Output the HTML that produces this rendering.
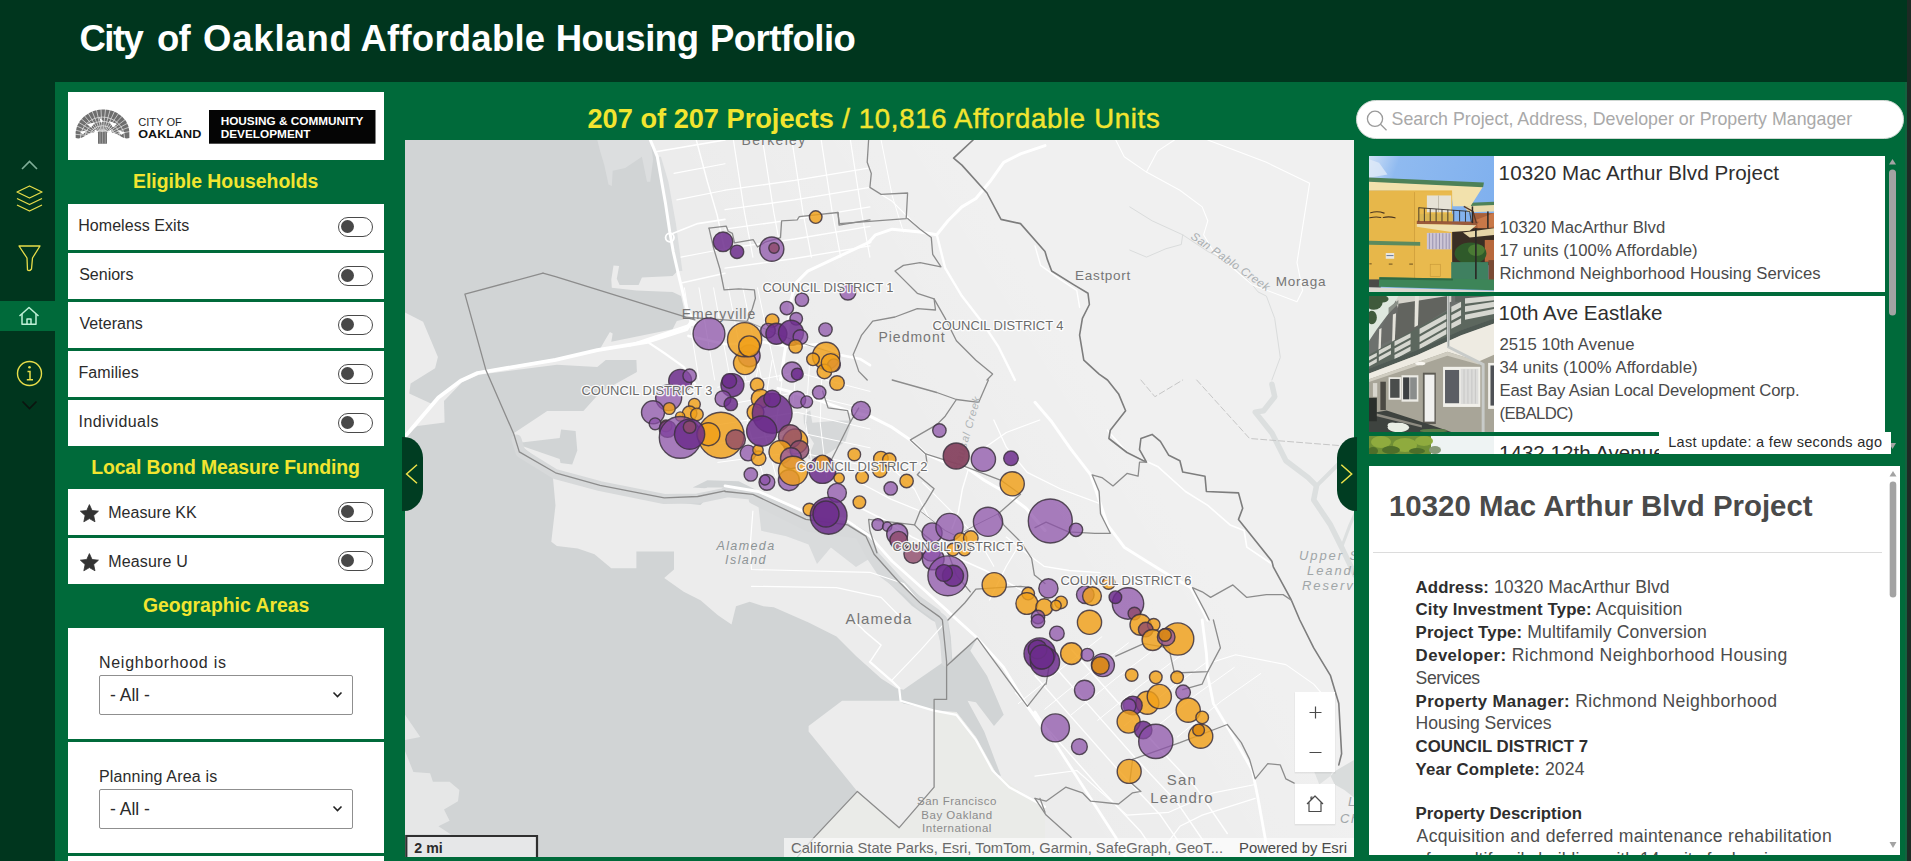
<!DOCTYPE html>
<html><head><meta charset="utf-8"><title>City of Oakland Affordable Housing Portfolio</title>
<style>
*{box-sizing:border-box}
html,body{margin:0;padding:0}
body{width:1911px;height:861px;overflow:hidden;position:relative;background:#00361e;font-family:"Liberation Sans",sans-serif;color:#2b2b2b}
.abs{position:absolute}
#main{left:55px;top:82px;width:1852px;height:779px;background:#006a3a}
#edge{left:1907px;top:0;width:4px;height:861px;background:#1e2a24}
#title{left:80px;top:18.2px;font-size:36.5px;font-weight:700;color:#fff;white-space:nowrap;line-height:42px}
.hd{color:#f2e530;font-weight:700;font-size:19.4px;text-align:center;left:68px;width:316px;white-space:nowrap;line-height:24px}
.row{left:68px;width:316px;height:45.5px;background:#fff}
.row span{position:absolute;left:11px;top:12.4px;font-size:16px;line-height:19px;color:#2b2b2b;white-space:nowrap}
.tg{position:absolute;left:270px;top:13px;width:35px;height:20px;border:1px solid #4a4a4a;border-radius:10px;background:#fff}
.tg i{position:absolute;left:2.2px;top:1.7px;width:13px;height:13px;border-radius:50%;background:#484848}
.sel{position:absolute;left:31px;width:254px;height:40px;border:1px solid #8f8f8f;border-radius:2px;background:#fff}
.sel span{position:absolute;left:10px;top:9px;font-size:17.5px;line-height:20px;color:#2b2b2b}
.lbl{position:absolute;left:31px;font-size:16px;line-height:19px;color:#2b2b2b;white-space:nowrap}
.li{left:1369px;width:516px;background:#fff;overflow:hidden}
.li .t{position:absolute;left:130px;font-size:20.6px;line-height:24px;color:#2e2e2e;white-space:nowrap}
.li .l{position:absolute;left:130px;font-size:16.7px;line-height:20px;color:#4a4a4a;white-space:nowrap}
.d{position:absolute;left:47px;font-size:17.6px;line-height:21px;color:#4c4c4c;white-space:nowrap}
.d b{color:#2e2e2e;font-size:16.8px}
/*FIT*/#w1{letter-spacing:-1.533px;margin-left:0.50px}#w2{letter-spacing:-0.800px;margin-left:0.70px}#w3{letter-spacing:0.783px;margin-left:0.70px}#w4{letter-spacing:0.233px;margin-left:1.00px}#w5{letter-spacing:-0.450px;margin-left:-0.10px}#w6{letter-spacing:-0.513px;margin-left:-0.70px}#r1{letter-spacing:0.054px;margin-left:-0.80px}#r2{letter-spacing:0.000px;margin-left:0.20px}#r3{letter-spacing:0.029px;margin-left:0.50px}#r4{letter-spacing:0.086px;margin-left:-0.50px}#r5{letter-spacing:0.430px;margin-left:-0.50px}#r6{letter-spacing:0.056px;margin-left:-0.80px}#r7{letter-spacing:0.162px;margin-left:-0.80px}#h1{letter-spacing:0.000px;margin-left:-0.40px}#h2{letter-spacing:-0.108px;margin-left:-0.50px}#h3{letter-spacing:0.007px;margin-left:0.20px}#lb1{letter-spacing:0.757px;margin-left:-0.10px}#lb2{letter-spacing:0.173px;margin-left:-0.10px}#sp{letter-spacing:0.020px;margin-left:-0.50px}#t1{letter-spacing:0.082px;margin-left:-0.40px}#l1{letter-spacing:0.026px;margin-left:0.60px}#l2{letter-spacing:0.064px;margin-left:0.60px}#l3{letter-spacing:0.057px;margin-left:0.40px}#t2{letter-spacing:-0.038px;margin-left:-0.40px}#l4{letter-spacing:0.053px;margin-left:0.40px}#l5{letter-spacing:0.072px;margin-left:0.40px}#l6{letter-spacing:-0.135px;margin-left:0.40px}#l7{letter-spacing:-0.586px;margin-left:0.50px}#lu{letter-spacing:0.314px;margin-left:0.20px}#d1{letter-spacing:0.082px;margin-left:-0.40px}#d2{letter-spacing:0.144px;margin-left:-0.40px}#d3{letter-spacing:0.120px;margin-left:-0.40px}#d4{letter-spacing:0.410px;margin-left:-0.40px}#d5{letter-spacing:-0.429px;margin-left:-0.40px}#d6{letter-spacing:0.358px;margin-left:-0.40px}#d7{letter-spacing:-0.060px;margin-left:-0.40px}#d8{letter-spacing:0.018px;margin-left:-0.40px}#d9{letter-spacing:0.150px;margin-left:-0.40px}#d10{letter-spacing:0.016px;margin-left:-0.40px}#d11{letter-spacing:0.302px;margin-left:0.60px}/*ENDFIT*/
</style></head><body>
<div class="abs" id="main"></div>
<div class="abs" id="edge2" style="left:1904.5px;top:82px;width:3px;height:779px;background:#14603e"></div>
<div class="abs" id="edge"></div>
<div class="abs" id="title"><span id="w1" style="position:absolute;left:-1.0px;top:0">City</span><span id="w2" style="position:absolute;left:76.4px;top:0">of</span><span id="w3" style="position:absolute;left:122.4px;top:0">Oakland</span><span id="w4" style="position:absolute;left:279.5px;top:0">Affordable</span><span id="w5" style="position:absolute;left:475.8px;top:0">Housing</span><span id="w6" style="position:absolute;left:630.6px;top:0">Portfolio</span></div>
<!-- sidebar icons -->
<div class="abs" style="left:0;top:301px;width:55px;height:30px;background:#006a3a"></div>
<svg class="abs" style="left:0;top:140px" width="55" height="300" viewBox="0 140 55 300" fill="none">
<path d="M22 169 L29.5 161.5 L37 169" stroke="#7fae98" stroke-width="1.6"/>
<g stroke="#e8de4a" stroke-width="1.3" stroke-linejoin="round">
<path d="M29.5 186 L42 192 L29.5 198 L17 192 Z"/>
<path d="M17 198.5 L29.5 204.5 L42 198.5"/>
<path d="M17 205 L29.5 211 L42 205"/>
<path d="M19 246 L40 246 L32.5 258 L31.5 269 Q29.5 271.5 27.5 270 L27 258 Z"/>
</g>
<g stroke="#bff0d6" stroke-width="1.5" stroke-linejoin="round">
<path d="M19.5 316 L29 307.5 L38.5 316"/>
<path d="M22 314 L22 324.3 L36 324.3 L36 314"/>
<path d="M27 324 L27 319 L31 319 L31 324"/>
</g>
<circle cx="29.5" cy="373.5" r="12" stroke="#e8de4a" stroke-width="1.4"/>
<circle cx="29.5" cy="367.3" r="1.3" fill="#e8de4a"/>
<path d="M27.5 371.5 L30 371.5 L30 379.5 M26.8 379.7 L33 379.7" stroke="#e8de4a" stroke-width="1.5"/>
<path d="M22.5 401.5 L29.5 408.5 L36.5 401.5" stroke="#0b140f" stroke-width="1.6"/>
</svg>
<!-- left panel -->
<div class="abs" style="left:68px;top:92px;width:316px;height:68px;background:#fff"></div>
<svg class="abs" style="left:68px;top:92px" width="316" height="68" viewBox="0 0 316 68">
<g id="tree" fill="#6e6e6e">
<path d="M7.7 46 Q6.2 33 16 24.5 Q25.5 17 35 17.6 Q45.5 17 54 24.5 Q62.6 32 61.4 46 Q57 47.5 52 44 Q45 39.5 38.9 40.5 L38.9 51.5 L30 51.5 L30 40.5 Q24 39.5 17 44 Q12 47.5 7.7 46 Z"/>
</g>
<g stroke="#fff" fill="none" opacity="0.8"><path stroke-width="0.75" d="M29.5 44.5 L3.7 41.9 M29.7 43.8 L4.6 37.4 M29.9 43.1 L6.2 33.0 M30.3 42.4 L8.5 29.0 M30.8 41.8 L11.5 25.3 M31.4 41.3 L15.0 22.1 M32.0 40.9 L19.0 19.5 M32.7 40.6 L23.4 17.5 M33.5 40.4 L28.1 16.2 M34.2 40.3 L32.9 15.6 M35.0 40.3 L37.7 15.7 M35.8 40.4 L42.5 16.6 M36.5 40.7 L47.1 18.1 M37.2 41.0 L51.4 20.3 M37.8 41.5 L55.2 23.1 M38.4 42.0 L58.6 26.5 M38.8 42.6 L61.3 30.3 M39.2 43.3 L63.4 34.4 M39.4 44.0 L64.8 38.9"/><path stroke-width="0.8" d="M26.0 46.0 A8.5 8.1 0 0 1 43.0 46.0 M21.5 46.0 A13.0 12.3 0 0 1 47.5 46.0 M17.0 46.0 A17.5 16.6 0 0 1 52.0 46.0 M12.5 46.0 A22.0 20.9 0 0 1 56.5 46.0"/></g>
<g fill="#fff"><path d="M19 32 L27 30.5 L23 35.5Z M41 29 L49 32 L45 35.5Z M12 40 L19 38 L15 42.5Z M50 38 L57 40.5 L53 43Z M27 37.5 L31 40 L26 41.5Z M39 40 L43 37.5 L44 41.5Z M31 25 L35 29 L33 31Z"/></g><rect x="30" y="40" width="8.9" height="11.5" fill="#6e6e6e"/><path d="M32 40V51.5M34.6 38V51.5M37.2 40V51.5" stroke="#fff" stroke-width="0.5" opacity="0.7"/>
<rect x="141" y="18" width="166.5" height="33.7" fill="#050505"/>
<text x="70.3" y="33.6" font-family="Liberation Sans, sans-serif" font-size="10" fill="#222" textLength="43.5" lengthAdjust="spacingAndGlyphs">CITY OF</text>
<text x="70.3" y="45.7" font-family="Liberation Sans, sans-serif" font-size="11.6" font-weight="700" fill="#111" textLength="63" lengthAdjust="spacingAndGlyphs">OAKLAND</text>
<text x="152.7" y="32.5" font-family="Liberation Sans, sans-serif" font-size="11" font-weight="700" fill="#fff" textLength="142.7" lengthAdjust="spacingAndGlyphs">HOUSING &amp; COMMUNITY</text>
<text x="152.7" y="45.8" font-family="Liberation Sans, sans-serif" font-size="11" font-weight="700" fill="#fff" textLength="89.8" lengthAdjust="spacingAndGlyphs">DEVELOPMENT</text>
</svg>
<div id="h1" class="abs hd" style="top:169px">Eligible Households</div>
<div class="abs row" style="top:204px"><span id="r1">Homeless Exits</span><div class="tg"><i></i></div></div>
<div class="abs row" style="top:253px"><span id="r2">Seniors</span><div class="tg"><i></i></div></div>
<div class="abs row" style="top:302px"><span id="r3">Veterans</span><div class="tg"><i></i></div></div>
<div class="abs row" style="top:351px"><span id="r4">Families</span><div class="tg"><i></i></div></div>
<div class="abs row" style="top:400px"><span id="r5">Individuals</span><div class="tg"><i></i></div></div>
<div id="h2" class="abs hd" style="top:454.5px">Local Bond Measure Funding</div>
<div class="abs row" style="top:489px"><span id="r6" style="left:41px;top:13.5px">Measure KK</span><svg class="abs" style="left:10.7px;top:13px" width="22" height="22" viewBox="0 0 22 22"><path d="M10.40 2.60 L13.05 8.46 L19.44 9.16 L14.68 13.49 L15.98 19.79 L10.40 16.60 L4.82 19.79 L6.12 13.49 L1.36 9.16 L7.75 8.46 Z" fill="#333" stroke="#333" stroke-width="0.8" stroke-linejoin="round"/></svg><div class="tg"><i></i></div></div>
<div class="abs row" style="top:538px"><span id="r7" style="left:41px;top:13.5px">Measure U</span><svg class="abs" style="left:10.7px;top:13px" width="22" height="22" viewBox="0 0 22 22"><path d="M10.40 2.60 L13.05 8.46 L19.44 9.16 L14.68 13.49 L15.98 19.79 L10.40 16.60 L4.82 19.79 L6.12 13.49 L1.36 9.16 L7.75 8.46 Z" fill="#333" stroke="#333" stroke-width="0.8" stroke-linejoin="round"/></svg><div class="tg"><i></i></div></div>
<div id="h3" class="abs hd" style="top:593px">Geographic Areas</div>
<div class="abs" style="left:68px;top:628px;width:316px;height:110.6px;background:#fff">
<div id="lb1" class="lbl" style="top:25px">Neighborhood is</div>
<div class="sel" style="top:47px"><span>- All -</span><svg class="abs" style="left:232px;top:15px" width="11" height="8" viewBox="0 0 11 8"><path d="M1.5 1.5 L5.5 5.5 L9.5 1.5" stroke="#222" stroke-width="1.6" fill="none"/></svg></div>
</div>
<div class="abs" style="left:68px;top:742px;width:316px;height:110.6px;background:#fff">
<div id="lb2" class="lbl" style="top:25px">Planning Area is</div>
<div class="sel" style="top:47px"><span>- All -</span><svg class="abs" style="left:232px;top:15px" width="11" height="8" viewBox="0 0 11 8"><path d="M1.5 1.5 L5.5 5.5 L9.5 1.5" stroke="#222" stroke-width="1.6" fill="none"/></svg></div>
</div>
<div class="abs" style="left:68px;top:856px;width:316px;height:5px;background:#fff"></div>
<div class="abs" id="cnt" style="left:587.5px;top:102.5px;white-space:nowrap;color:#f2e530;font-size:27.2px;line-height:32px"><b>207 of 207 Projects</b><span style="font-size:27.5px;letter-spacing:0.7px;-webkit-text-stroke:0.45px #f2e530"> / 10,816 Affordable Units</span></div>
<svg class="abs" style="left:405px;top:140px" width="949" height="717" viewBox="405 140 949 717" font-family="Liberation Sans, sans-serif">
<rect x="405" y="140" width="949" height="717" fill="#ececec"/>
<rect x="405" y="140" width="949" height="717" fill="#d1d4d5"/>
<polygon points="650.3,140 657.3,156.7 665.6,204.1 669.8,232 673.2,251.5 677.6,271 672.6,276 641.9,277.4 638.6,284.9 619.6,284.9 616.8,278.8 619.1,266 613.5,265.4 611.3,279.4 611.8,287.7 636.4,290.5 672.6,291.9 681,296.1 683.7,307.2 683.7,319.5 676.8,320.9 672.6,329.3 611.3,341.8 612.7,333.4 609.9,332.1 605.7,339 600.1,348.8 555.5,358.5 477.5,371.6 460.7,379.4 438.4,396.2 431.5,403.7 409.2,393.4 410.6,383.6 435.1,368.3 437.9,357.1 423.1,321.7 405,312.5 405,435.2 417.5,426 444.6,422.6 444,400.9 462.1,382.2 478.9,374.7 556.9,364.7 597.3,366.9 605.7,359.9 636.4,359.9 636.9,371.9 600.1,392.5 583.4,410.9 547.2,410.9 513.7,433.2 519.3,442.7 559.7,438 561.1,429.6 575.6,431 577.3,450.5 572.2,464.5 560.5,463.1 559.7,458.9 520.7,445.5 555.5,472.8 600.1,484 664.2,496.5 697.7,495.1 725,489.5 692.7,487.5 707.4,480.2 738.7,481.3 755.4,489.6 763.8,498 797.2,510.5 807.7,523.1 817,530.5 856,524.9 867.2,536.1 875.5,552.8 892.2,575.1 917.3,600.2 939.6,616.9 948,620 950.8,636.7 952.2,659 977.3,638.1 970.3,650.7 987,675.7 1003.7,714.8 994,725.9 975.9,702.2 967.5,700.8 984.2,731.5 1001,776.1 996.8,774.7 975.9,737.1 956.4,712 936.8,710.6 903.4,703.6 899.2,700.8 842.1,700.8 808.6,725.9 808.6,731.5 857.4,791.4 814.2,837.4 791.9,860 1354,857 1354,140" fill="#ececec" />
<polygon points="552.7,475.1 600.1,487.3 664.2,501.3 700.5,504.9 706,499.3 725,495.1 692.7,493.8 707.4,487.5 738.7,487.5 753.3,495.9 763.8,504.3 797.2,516.8 807.7,529.3 817,538.9 847.6,533.3 861.6,541.7 869.9,558.4 886.7,580.7 911.8,605.8 931.3,620 936.8,622.8 941,636.7 943.8,661.8 903.4,689.7 896.4,688.3 881.1,678.4 856,656.1 836.5,636.6 808.6,622.6 773.8,607.3 763.3,606.2 749.7,601.7 736,606.2 731.5,624.4 717.9,615.3 700.5,600.2 683.7,591.8 664.2,577.9 674,569.5 674,551.4 636.4,551.4 636.4,568.2 611.3,568.2 594.5,554.2 577.8,548.6 556.9,545.9 551.3,541.7 555.5,505.4" fill="#ececec" />
<polyline points="516.5,439.4 520.7,452.8 555.5,474.2 600.1,486.2 664.2,499 697.7,498.5 725,492.9 725,492.1 752.9,494.8 805.8,519.9 847.6,526.1 865.8,536.7 874.1,555.1 897.8,581.3 920.1,603.6 939.6,617.5 942.4,620 945.2,642.3 946.6,661.8" fill="none" stroke="#d7d9da" stroke-width="10" stroke-linejoin="round" stroke-linecap="round" />
<polygon points="758.4,505.6 808.6,527.9 858.8,536.2 869.9,558.5 856,566.9 830.9,547.4 817,564.1 808.6,544.6 786.3,536.2 761.2,530.7" fill="#d9dbdc" />
<polyline points="752.9,500 808.6,527.9 858.8,534.8 869.9,555.7 881.1,572.5 903.4,589.2 936.8,612.9 945.2,644.9" fill="none" stroke="#d7d9da" stroke-width="8" stroke-linejoin="round" stroke-linecap="round" />
<polygon points="597.3,140 650.3,140 653.1,159.5 650.3,181.8 647,181.8 641.9,156.7 625.2,167.9 612.7,170.7 611.8,186 608.5,184.6 604.3,165.1 600.1,151.1" fill="#dcdedf" />
<polygon points="657.3,156.7 665.6,204.1 669.8,232 673.2,251.5 677.6,271 682.4,271 675.9,223.6 668.4,181.8 660.9,156.7" fill="#dcdedf" />
<polygon points="405,620 405,714.8 420.3,737.1 405,739.9 405,751 413.4,771.9 430.1,773.3 432.9,781.7 449.6,781.7 459.4,790 458,801.2 444,809.5 449.6,820.7 438.4,826.3 451,834.6 405,834.6" fill="#e6e7e7" />
<polygon points="803.5,414.8 810.2,410.2 812.3,422.7 839.1,420.6 852,420.6 845.3,441.5 830.7,452 814,460.8 807.7,458.3 814,443.6 807.7,433.2 803.9,422.7" fill="#d6d8d9" />
<polygon points="934.1,712 956.4,712 975.9,737.1 996.8,774.7 1003.7,778.9 1045,809.5 1045,860 791.9,860 814.2,837.4 857.4,791.4 899.2,827.7 934.1,787.2" fill="#eaebe8" />
<defs><linearGradient id="hg" gradientUnits="userSpaceOnUse" x1="900" y1="560" x2="1130" y2="420"><stop offset="0" stop-color="#fff" stop-opacity="0"/><stop offset="1" stop-color="#fff" stop-opacity="0.22"/></linearGradient></defs>
<rect x="405" y="140" width="949" height="717" fill="url(#hg)"/>
<polyline points="1271.9,384.2 1274.7,396.7 1263.6,410.7 1255.2,412.1 1271.9,433 1285.9,460.8 1308.2,477.6 1316.5,485.9 1313.7,499.9 1330.5,524.9 1341.6,547.2 1355,575.1" fill="none" stroke="#dcdfdf" stroke-width="5.5" stroke-linejoin="round" stroke-linecap="round" />
<polyline points="1316.5,485.9 1330.5,472 1341.6,460.8" fill="none" stroke="#dcdfdf" stroke-width="4" stroke-linejoin="round" stroke-linecap="round" />
<polyline points="1341.6,547.2 1350,524.9 1355,513.8" fill="none" stroke="#dcdfdf" stroke-width="3" stroke-linejoin="round" stroke-linecap="round" />
<polygon points="1336,770.5 1355,759.4 1355,798.4 1344.4,790 1334.7,784.5 1330.5,776.1" fill="#d9dcdc" />
<polygon points="1313.7,770.5 1324.9,759.4 1334.7,764.9 1330.5,776.1 1319.3,784.5" fill="#dfe1e1" />
<polyline points="1129.8,206.9 1152.1,220.8 1182.7,234.8 1207.8,251.5 1230.1,262.6 1252.4,284.9 1258,291.9 1266.4,296.1 1274.7,318.4 1280.3,357.4 1271.9,380" fill="none" stroke="#dadcdc" stroke-width="1" stroke-linejoin="round" stroke-linecap="round" />
<polyline points="1129.8,250.1 1146.5,257.1 1166,248.7 1181.3,244.5 1182.7,234.8" fill="none" stroke="#dadcdc" stroke-width="1" stroke-linejoin="round" stroke-linecap="round" />
<polyline points="650.3,140 657.3,156.7 665.6,204.1 669.8,232 673.2,251.5 679.6,279.4 686.5,307.2 694.9,324" fill="none" stroke="#ffffff" stroke-width="3" stroke-linejoin="round" stroke-linecap="round" />
<polyline points="405,436.6 421.7,417.1 438.4,397.6 460.7,380.8 477.5,373 555.5,359.9 597.3,350.2 647.5,341.8 686.5,329.3 694.9,316.7" fill="none" stroke="#ffffff" stroke-width="3.8" stroke-linejoin="round" stroke-linecap="round" />
<polyline points="647.5,341.8 664.2,353 683.7,366.9 694.9,383.6" fill="none" stroke="#ffffff" stroke-width="2.2" stroke-linejoin="round" stroke-linecap="round" />
<polyline points="870,241.8 839.1,256.4 807.7,271.1 795.2,283.6 791,300.3 785.7,346.3 780.5,380" fill="none" stroke="#ffffff" stroke-width="3" stroke-linejoin="round" stroke-linecap="round" />
<polyline points="868.6,242.6 875.5,234.8 892.2,229.2 920.1,232 936.8,234.8 948,220.8 961.9,206.9 975.9,198.5 989.8,181.8 1003.7,162.3 1020.5,153.9 1045,145.6" fill="none" stroke="#ffffff" stroke-width="3" stroke-linejoin="round" stroke-linecap="round" />
<polyline points="936.8,234.8 945.2,268.2 961.9,296.1 981.4,321.2 998.2,346.3 1009.3,368.6 1014.9,380" fill="none" stroke="#ffffff" stroke-width="2.4" stroke-linejoin="round" stroke-linecap="round" />
<polyline points="630,345.3 688.5,325.4 699,323.3" fill="none" stroke="#ffffff" stroke-width="2.6" stroke-linejoin="round" stroke-linecap="round" />
<polyline points="688.5,335.9 726.2,344.3 763.8,342.2 786.8,346.3 818.2,344.3 839.1,354.7 860,358.9 870,365.2" fill="none" stroke="#ffffff" stroke-width="2.6" stroke-linejoin="round" stroke-linecap="round" />
<polyline points="778,388.4 808.6,396.7 847.6,410.7 869.9,416.2 892.2,427.4 910.4,439.9 925.7,453.9 948,463.6 964.7,466.4 984.2,480.3 1003.7,491.5 1026,508.2 1045,530.5" fill="none" stroke="#ffffff" stroke-width="3" stroke-linejoin="round" stroke-linecap="round" />
<polyline points="1035,402.3 1051.7,421.8 1071.2,449.7 1090.7,474.8 1107.5,524.9 1124.2,547.2 1146.5,561.2 1168.8,575.1 1191.1,587.7 1207.8,620" fill="none" stroke="#ffffff" stroke-width="3" stroke-linejoin="round" stroke-linecap="round" />
<polyline points="1213.4,661.8 1235.7,654.8 1285.9,664.6 1313.7,684.1 1330.5,703.6" fill="none" stroke="#ffffff" stroke-width="1.1" stroke-linejoin="round" stroke-linecap="round" />
<polyline points="1107.5,430.2 1127,452.5 1157.6,466.4 1185.5,491.5 1207.8,505.4 1230.1,524.9 1244.1,530.5 1246.8,547.2 1271.9,564" fill="none" stroke="#ffffff" stroke-width="1.6" stroke-linejoin="round" stroke-linecap="round" />
<polyline points="1035,245.9 1040.6,265.4 1060.1,279.4 1076.8,290.5 1079.6,307.2" fill="none" stroke="#ffffff" stroke-width="1.4" stroke-linejoin="round" stroke-linecap="round" />
<polyline points="725,485.9 758.4,491.5 803,511 844.9,519.4 869.9,536.1 892.2,561.2 920.1,586.3 948,611.4" fill="none" stroke="#ffffff" stroke-width="2.8" stroke-linejoin="round" stroke-linecap="round" />
<polyline points="948,611.6 975.9,636.7 1003.7,667.4 1027.4,706.4 1045,731.5" fill="none" stroke="#ffffff" stroke-width="2.8" stroke-linejoin="round" stroke-linecap="round" />
<polyline points="1035,712 1065.7,759.4 1090.7,798.4 1115.8,837.4 1127,860" fill="none" stroke="#ffffff" stroke-width="2.8" stroke-linejoin="round" stroke-linecap="round" />
<polyline points="1035,675.7 1076.8,723.1 1118.6,770.5 1160.4,815.1 1191.1,860" fill="none" stroke="#ffffff" stroke-width="1.4" stroke-linejoin="round" stroke-linecap="round" />
<polyline points="1051.7,663.2 1093.5,710.6 1135.3,758 1177.2,802.6 1207.8,847.5" fill="none" stroke="#ffffff" stroke-width="1.4" stroke-linejoin="round" stroke-linecap="round" />
<polyline points="1071.2,649.3 1113,696.7 1154.9,744 1196.7,788.6 1227.3,833.5" fill="none" stroke="#ffffff" stroke-width="1.4" stroke-linejoin="round" stroke-linecap="round" />
<polyline points="1015.5,692.5 1057.3,739.9 1099.1,787.2 1140.9,831.8 1171.6,876.7" fill="none" stroke="#ffffff" stroke-width="1.4" stroke-linejoin="round" stroke-linecap="round" />
<polyline points="1018.3,703.6 1062.9,667.4 1101.9,636.7" fill="none" stroke="#ffffff" stroke-width="1" stroke-linejoin="round" stroke-linecap="round" />
<polyline points="1044.8,709.2 1089.4,673 1128.4,642.9" fill="none" stroke="#ffffff" stroke-width="1" stroke-linejoin="round" stroke-linecap="round" />
<polyline points="1071.2,714.8 1115.8,678.5 1154.9,649" fill="none" stroke="#ffffff" stroke-width="1" stroke-linejoin="round" stroke-linecap="round" />
<polyline points="1097.7,720.3 1142.3,684.1 1181.3,655.1" fill="none" stroke="#ffffff" stroke-width="1" stroke-linejoin="round" stroke-linecap="round" />
<polyline points="1124.2,725.9 1168.8,689.7 1207.8,661.3" fill="none" stroke="#ffffff" stroke-width="1" stroke-linejoin="round" stroke-linecap="round" />
<polyline points="1150.7,731.5 1195.3,695.3 1234.3,667.4" fill="none" stroke="#ffffff" stroke-width="1" stroke-linejoin="round" stroke-linecap="round" />
<polyline points="1177.2,737.1 1221.8,700.8 1260.8,673.5" fill="none" stroke="#ffffff" stroke-width="1" stroke-linejoin="round" stroke-linecap="round" />
<polyline points="733.4,140 744.5,212.5 752.9,257.1" fill="none" stroke="#ffffff" stroke-width="1.2" stroke-linejoin="round" stroke-linecap="round" />
<polyline points="762.6,140 773.8,212.5 782.1,257.1" fill="none" stroke="#ffffff" stroke-width="1.2" stroke-linejoin="round" stroke-linecap="round" />
<polyline points="791.9,140 803,212.5 811.4,257.1" fill="none" stroke="#ffffff" stroke-width="1.2" stroke-linejoin="round" stroke-linecap="round" />
<polyline points="821.2,140 832.3,212.5 840.7,257.1" fill="none" stroke="#ffffff" stroke-width="1.2" stroke-linejoin="round" stroke-linecap="round" />
<polyline points="850.4,140 861.6,212.5 869.9,257.1" fill="none" stroke="#ffffff" stroke-width="1.2" stroke-linejoin="round" stroke-linecap="round" />
<polyline points="869.9,187.4 892.2,201.3 920.1,229.2" fill="none" stroke="#ffffff" stroke-width="1.2" stroke-linejoin="round" stroke-linecap="round" />
<polyline points="881.1,140 892.2,195.7 903.4,232" fill="none" stroke="#ffffff" stroke-width="1" stroke-linejoin="round" stroke-linecap="round" />
<polyline points="725,190.2 794.7,180.4 869.9,167.9" fill="none" stroke="#ffffff" stroke-width="1.3" stroke-linejoin="round" stroke-linecap="round" />
<polyline points="725,209.7 794.7,199.9 869.9,187.4" fill="none" stroke="#ffffff" stroke-width="1.3" stroke-linejoin="round" stroke-linecap="round" />
<polyline points="725,229.2 794.7,219.4 869.9,206.9" fill="none" stroke="#ffffff" stroke-width="1.3" stroke-linejoin="round" stroke-linecap="round" />
<polyline points="725,248.7 794.7,239 869.9,226.4" fill="none" stroke="#ffffff" stroke-width="1.3" stroke-linejoin="round" stroke-linecap="round" />
<polyline points="725,268.2 794.7,258.5 869.9,245.9" fill="none" stroke="#ffffff" stroke-width="1.3" stroke-linejoin="round" stroke-linecap="round" />
<polyline points="684.4,287.8 699,380" fill="none" stroke="#ffffff" stroke-width="1" stroke-linejoin="round" stroke-linecap="round" />
<polyline points="699,287.8 714.7,380" fill="none" stroke="#ffffff" stroke-width="1" stroke-linejoin="round" stroke-linecap="round" />
<polyline points="713.6,287.8 730.3,380" fill="none" stroke="#ffffff" stroke-width="1" stroke-linejoin="round" stroke-linecap="round" />
<polyline points="728.3,287.8 746,380" fill="none" stroke="#ffffff" stroke-width="1" stroke-linejoin="round" stroke-linecap="round" />
<polyline points="742.9,287.8 761.7,380" fill="none" stroke="#ffffff" stroke-width="1" stroke-linejoin="round" stroke-linecap="round" />
<polyline points="757.5,287.8 777.4,380" fill="none" stroke="#ffffff" stroke-width="1" stroke-linejoin="round" stroke-linecap="round" />
<polyline points="759.6,360 747.1,422.7 763.8,477.1" fill="none" stroke="#ffffff" stroke-width="1" stroke-linejoin="round" stroke-linecap="round" />
<polyline points="772.2,360 761.7,422.7 776.3,477.1" fill="none" stroke="#ffffff" stroke-width="1" stroke-linejoin="round" stroke-linecap="round" />
<polyline points="784.7,360 776.3,422.7 788.9,477.1" fill="none" stroke="#ffffff" stroke-width="1" stroke-linejoin="round" stroke-linecap="round" />
<polyline points="797.2,360 791,422.7 801.4,477.1" fill="none" stroke="#ffffff" stroke-width="1" stroke-linejoin="round" stroke-linecap="round" />
<polyline points="809.8,360 805.6,422.7 814,477.1" fill="none" stroke="#ffffff" stroke-width="1" stroke-linejoin="round" stroke-linecap="round" />
<polyline points="822.3,360 820.2,422.7 826.5,477.1" fill="none" stroke="#ffffff" stroke-width="1" stroke-linejoin="round" stroke-linecap="round" />
<polyline points="717.8,387.2 797.2,372.5 870,391.4" fill="none" stroke="#ffffff" stroke-width="1" stroke-linejoin="round" stroke-linecap="round" />
<polyline points="717.8,406 797.2,392.4 870,410.2" fill="none" stroke="#ffffff" stroke-width="1" stroke-linejoin="round" stroke-linecap="round" />
<polyline points="717.8,424.8 797.2,412.3 870,429" fill="none" stroke="#ffffff" stroke-width="1" stroke-linejoin="round" stroke-linecap="round" />
<polyline points="717.8,443.6 797.2,432.1 870,447.8" fill="none" stroke="#ffffff" stroke-width="1" stroke-linejoin="round" stroke-linecap="round" />
<polyline points="717.8,462.4 797.2,452 870,466.6" fill="none" stroke="#ffffff" stroke-width="1" stroke-linejoin="round" stroke-linecap="round" />
<polyline points="752.9,511 750.1,547.2 751.5,569.5 869.9,572.3 903.4,583.5 920.1,603" fill="none" stroke="#ffffff" stroke-width="1.2" stroke-linejoin="round" stroke-linecap="round" />
<polyline points="751.5,586.3 836.5,587.7 881.1,597.4 903.4,620" fill="none" stroke="#ffffff" stroke-width="1.2" stroke-linejoin="round" stroke-linecap="round" />
<polyline points="869.9,661.8 881.1,645.1 864.4,631.1 853.2,620" fill="none" stroke="#ffffff" stroke-width="1.4" stroke-linejoin="round" stroke-linecap="round" />
<polyline points="869.9,661.8 892.2,681.3 899.2,688.3 900.6,700.8 934.1,710.6 956.4,714.8 975.9,739.9 992.6,770.5 1009.3,787.2 1045,806.8" fill="none" stroke="#ffffff" stroke-width="2.2" stroke-linejoin="round" stroke-linecap="round" />
<polyline points="892.2,679.9 920.1,650.7 942.4,625.6" fill="none" stroke="#ffffff" stroke-width="1.2" stroke-linejoin="round" stroke-linecap="round" />
<polyline points="1115.8,140 1124.2,156.7 1146.5,172.1 1179.9,190.2 1202.2,206.9 1207.8,220.8 1203.6,234.8 1213.4,251.5 1252.4,284.9 1297,301.7 1302.6,290.5 1297,262.6 1309.6,183.2 1266.4,162.3 1207.8,140" fill="none" stroke="#ffffff" stroke-width="1.1" stroke-linejoin="round" stroke-linecap="round" />
<polyline points="1146.5,172.1 1157.6,151.1 1174.4,140" fill="none" stroke="#ffffff" stroke-width="1.1" stroke-linejoin="round" stroke-linecap="round" />
<polyline points="1202.2,620 1206.4,653.4 1207.8,675.7 1213.4,703.6 1230.1,731.5 1252.4,770.5 1258,798.4 1269.1,860" fill="none" stroke="#ffffff" stroke-width="2.8" stroke-linejoin="round" stroke-linecap="round" />
<polyline points="1035,776.1 1076.8,770.5 1127,815.1 1168.8,812.3 1213.4,792.8 1255.2,784.5" fill="none" stroke="#ffffff" stroke-width="1.2" stroke-linejoin="round" stroke-linecap="round" />
<polyline points="1154.9,860 1179.9,826.3 1202.2,815.1 1255.2,798.4" fill="none" stroke="#ffffff" stroke-width="1.2" stroke-linejoin="round" stroke-linecap="round" />
<polyline points="860,507.8 885.1,520.3 912.3,537.1 947.8,553.8 985.4,570.5 1039.8,600" fill="none" stroke="#ffffff" stroke-width="1.6" stroke-linejoin="round" stroke-linecap="round" />
<polyline points="968.7,468.1 962.4,489 958.3,512 952,528.7" fill="none" stroke="#ffffff" stroke-width="1.4" stroke-linejoin="round" stroke-linecap="round" />
<polyline points="985.4,447.2 1006.3,432.5 1039.8,420" fill="none" stroke="#ffffff" stroke-width="1.3" stroke-linejoin="round" stroke-linecap="round" />
<polyline points="993.8,420 1006.3,447.2 1027.2,472.3 1060.7,489 1100,503.6" fill="none" stroke="#ffffff" stroke-width="1.3" stroke-linejoin="round" stroke-linecap="round" />
<polyline points="860,482.7 891.4,499.4 922.7,512" fill="none" stroke="#ffffff" stroke-width="1.2" stroke-linejoin="round" stroke-linecap="round" />
<polyline points="1006.3,537.1 1027.2,553.8 1044,566.3 1069.1,570.5 1100,572.6" fill="none" stroke="#ffffff" stroke-width="1.3" stroke-linejoin="round" stroke-linecap="round" />
<polyline points="989.6,600 1006.3,566.3 1018.9,545.4" fill="none" stroke="#ffffff" stroke-width="1.2" stroke-linejoin="round" stroke-linecap="round" />
<polyline points="922.7,482.7 947.8,507.8 977.1,537.1 993.8,566.3" fill="none" stroke="#ffffff" stroke-width="1.1" stroke-linejoin="round" stroke-linecap="round" />
<polyline points="885.1,461.8 914.4,489 929,518.3" fill="none" stroke="#ffffff" stroke-width="1.1" stroke-linejoin="round" stroke-linecap="round" />
<polyline points="655.9,151.7 725,140" fill="none" stroke="#ffffff" stroke-width="1.6" stroke-linejoin="round" stroke-linecap="round" />
<polyline points="672.6,233.4 697.7,223.6 725,219.4" fill="none" stroke="#ffffff" stroke-width="1.6" stroke-linejoin="round" stroke-linecap="round" />
<polyline points="682.4,282.7 725,273.2" fill="none" stroke="#ffffff" stroke-width="1.4" stroke-linejoin="round" stroke-linecap="round" />
<polyline points="696.3,140 707.4,181.8 717.2,215.3 725,251.5" fill="none" stroke="#ffffff" stroke-width="1.4" stroke-linejoin="round" stroke-linecap="round" />
<polyline points="674,173.4 725,163.7" fill="none" stroke="#ffffff" stroke-width="1.1" stroke-linejoin="round" stroke-linecap="round" />
<polyline points="676.8,199.9 725,190.2" fill="none" stroke="#ffffff" stroke-width="1.1" stroke-linejoin="round" stroke-linecap="round" />
<polyline points="681,257.1 725,248.7" fill="none" stroke="#ffffff" stroke-width="1.1" stroke-linejoin="round" stroke-linecap="round" />
<circle cx="669.8" cy="237.6" r="4.2" fill="none" stroke="#fff" stroke-width="1.8"/>
<polyline points="543,273.2 555.5,276.6 694.9,319.8 684.4,317.1 747.1,321.3" fill="none" stroke="#8c8c8c" stroke-width="1.3" stroke-linejoin="round" stroke-linecap="round" />
<polyline points="543,273.2 464.9,294.1 485.8,369.7 513.7,433.8 519.3,451.9 555.5,472.8 600.1,485.4 664.2,497.9 697.7,496.5 725,490.9 725,491.5 752.9,494.3 805.8,519.4 847.6,524.9 865.8,536.1 874.1,554.2 897.8,580.7 920.1,603 939.6,616.9 942.4,620 946.6,661.8 946.6,699.4 934.1,699.4 934.1,787.2 899.2,827.7 857.4,791.4 814.2,837.4 794.7,860" fill="none" stroke="#8c8c8c" stroke-width="1.3" stroke-linejoin="round" stroke-linecap="round" />
<polyline points="709,228.2 726.2,226.1 728.3,231.4 732.4,233.4 734.5,242.9 753.3,239.7 757.5,247 765.9,241.8 780.5,237.6 781.6,220.9 797.2,219.9 799.3,216.7 838,212.5 839.1,225.1 870,219.9" fill="none" stroke="#8c8c8c" stroke-width="1.3" stroke-linejoin="round" stroke-linecap="round" />
<polyline points="709,228.2 713.6,248.1 719.9,269 724.1,289.9 738.7,288.9 754.4,289.9 755.4,298.3 752.3,308.7 747.1,321.3" fill="none" stroke="#8c8c8c" stroke-width="1.3" stroke-linejoin="round" stroke-linecap="round" />
<polyline points="747.1,321.3 776.3,333.8 805.6,344.3 839.1,354.7" fill="none" stroke="#a5a5a5" stroke-width="1" stroke-linejoin="round" stroke-linecap="round" />
<polyline points="837.9,212.5 839.3,223.6 906.2,218.6 907.6,193 881.1,194.4 869.9,187.4 871.3,173.4 867.2,162.3 868.6,140" fill="none" stroke="#8c8c8c" stroke-width="1.3" stroke-linejoin="round" stroke-linecap="round" />
<polyline points="907.6,218.6 920.1,229.2 931.3,237.6 932.7,254.3 941,266.8 920.1,262.6 903.4,265.4 895,271 903.4,279.4 917.3,293.3 934.1,298.9 935.5,310 917.3,308.6 895,317 872.7,321.2 861.6,335.1 853.2,354.6 858.8,371.4 867.2,380" fill="none" stroke="#8c8c8c" stroke-width="1.3" stroke-linejoin="round" stroke-linecap="round" />
<polyline points="934.1,298.9 945.2,318.4 956.4,340.7 975.9,360.2 992.6,374.1 987,380" fill="none" stroke="#8c8c8c" stroke-width="1.3" stroke-linejoin="round" stroke-linecap="round" />
<polyline points="973.1,140 953.6,158.1 961.9,165.1 987,193 1001,219.4 1020.5,223.6 1045,251.5 1047.5,259.9 1051.7,271 1074,284.9 1088,293.3 1089.4,304.5 1082.4,318.4 1079.6,335.1 1083.8,360.2 1099.1,374.1 1107.5,380 1118.6,393.9 1125.6,410.7 1110.3,430.2 1108.9,438.5 1127,452.5 1146.5,462.2 1139.5,449.7 1140.9,438.5 1152.1,434.4 1160.4,441.3 1168.8,455.3 1179.9,460.8 1182.7,472 1205,476.2 1206.4,491.5 1238.5,492.9 1242.7,508.2 1238.5,519.4 1271.9,561.2 1273.3,566.8 1291.4,600.2 1299.8,620 1313.7,647.9 1330.5,675.7 1338.8,703.6 1341.6,753.8 1338.8,764.9" fill="none" stroke="#7d7d7d" stroke-width="1.6" stroke-linejoin="round" stroke-linecap="round" />
<polyline points="1146.5,462.2 1139.5,462.2 1138.1,476.2 1127,473.4 1113,485.9 1101.9,477.6 1092.1,474.8 1099.1,491.5 1100.5,513.8 1110.3,533.3 1094.9,533.3 1068.4,531.9 1046.1,522.2 1035,527.7" fill="none" stroke="#8c8c8c" stroke-width="1.3" stroke-linejoin="round" stroke-linecap="round" />
<polyline points="1291.4,600.2 1283.1,594.6 1266.4,594.6 1246.8,597.4 1232.9,584.9 1210.6,597.4 1202.2,591.8 1192.5,587.7 1205,611.4 1209.2,620" fill="none" stroke="#8c8c8c" stroke-width="1.3" stroke-linejoin="round" stroke-linecap="round" />
<polyline points="822.6,391.1 828.1,407.9 847.6,410.7 850.4,421.8 836.5,449.7 830.9,460.8" fill="none" stroke="#8c8c8c" stroke-width="1.3" stroke-linejoin="round" stroke-linecap="round" />
<polyline points="858.8,407.9 850.4,421.8" fill="none" stroke="#8c8c8c" stroke-width="1.3" stroke-linejoin="round" stroke-linecap="round" />
<polyline points="892.2,380 936.8,392.5 956.4,399.5 978.7,402.3 988.4,380" fill="none" stroke="#8c8c8c" stroke-width="1.3" stroke-linejoin="round" stroke-linecap="round" />
<polyline points="956.4,399.5 945.2,416.2 936.8,424.6 910.4,439.9 925.7,453.9 927.1,463.6 917.3,474.8 934.1,488.7 925.7,502.6 920.1,511 914.5,524.9 868.6,519.4 869.9,530.5 876.9,552.8" fill="none" stroke="#8c8c8c" stroke-width="1.3" stroke-linejoin="round" stroke-linecap="round" />
<polyline points="925.7,453.9 964.7,466.4 1001,480.3 1020.5,494.3 998.2,513.8 1003.7,524.9 1020.5,541.7 1031.6,558.4 1034.4,575.1 1045,583.5" fill="none" stroke="#8c8c8c" stroke-width="1.3" stroke-linejoin="round" stroke-linecap="round" />
<polyline points="914.5,524.9 925.7,536.1 948,552.8 956.4,575.1 970.3,591.8" fill="none" stroke="#8c8c8c" stroke-width="1.3" stroke-linejoin="round" stroke-linecap="round" />
<polyline points="948,620 964.7,603 975.9,589.1 1020.5,586.3 1031.6,587.7" fill="none" stroke="#8c8c8c" stroke-width="1.3" stroke-linejoin="round" stroke-linecap="round" />
<polyline points="998.2,513.8 975.9,524.9 956.4,536.1 945.2,530.5 920.1,511" fill="none" stroke="#a0a0a0" stroke-width="1" stroke-linejoin="round" stroke-linecap="round" />
<polyline points="946.6,666 977.3,638.1 1027.4,706.4 1045,684.1 1046.1,684.1 1048.9,667.4" fill="none" stroke="#8c8c8c" stroke-width="1.3" stroke-linejoin="round" stroke-linecap="round" />
<polyline points="1115.8,656.2 1143.7,643.7 1168.8,647.9 1174.4,673 1207.8,671.6 1220.4,647.9 1213.4,620" fill="none" stroke="#8c8c8c" stroke-width="1.3" stroke-linejoin="round" stroke-linecap="round" />
<polyline points="1207.8,671.6 1202.2,684.1 1182.7,689.7" fill="none" stroke="#8c8c8c" stroke-width="1.3" stroke-linejoin="round" stroke-linecap="round" />
<polyline points="1035,798.4 1046.1,801.2 1065.7,787.2 1082.4,792.8 1090.7,801.2 1118.6,804 1132.6,792.8 1140.9,791.4 1129.8,781.7 1132.6,759.4 1179.9,742.6 1227.3,724.5 1241.3,742.6 1249.6,759.4 1255.2,778.9 1267.8,763.6 1280.3,764.9 1285.9,778.9 1294.2,783.1" fill="none" stroke="#8c8c8c" stroke-width="1.3" stroke-linejoin="round" stroke-linecap="round" />
<polyline points="1035,798.4 1046.1,815.1 1071.2,837.4" fill="none" stroke="#8c8c8c" stroke-width="1.3" stroke-linejoin="round" stroke-linecap="round" />
<polyline points="1040,798.4 1045,812.3" fill="none" stroke="#8c8c8c" stroke-width="1.3" stroke-linejoin="round" stroke-linecap="round" />
<polyline points="1140.9,380 1154.9,396.7 1182.7,380" fill="none" stroke="#c6c6c6" stroke-width="1" stroke-linejoin="round" stroke-linecap="round" stroke-dasharray="6 3"/>
<polyline points="1196.7,380 1249.6,438.5 1338.8,445.5" fill="none" stroke="#c6c6c6" stroke-width="1" stroke-linejoin="round" stroke-linecap="round" stroke-dasharray="6 3"/>
<text x="774" y="145" font-size="14" fill="#767676" text-anchor="middle" letter-spacing="1.3"  >Berkeley</text>
<text x="719" y="319" font-size="14" fill="#767676" text-anchor="middle" letter-spacing="1"  >Emeryville</text>
<text x="912" y="342" font-size="14" fill="#767676" text-anchor="middle" letter-spacing="1"  >Piedmont</text>
<text x="1103" y="280" font-size="13.5" fill="#767676" text-anchor="middle" letter-spacing="0.7"  >Eastport</text>
<text x="1301" y="286" font-size="13.5" fill="#767676" text-anchor="middle" letter-spacing="0.8"  >Moraga</text>
<text x="879" y="624" font-size="15" fill="#767676" text-anchor="middle" letter-spacing="1.1"  >Alameda</text>
<text x="1182" y="785" font-size="15" fill="#767676" text-anchor="middle" letter-spacing="1.2"  >San</text>
<text x="1182" y="803" font-size="15" fill="#767676" text-anchor="middle" letter-spacing="1.2"  >Leandro</text>
<text x="746" y="550" font-size="12.5" fill="#8d9496" text-anchor="middle" letter-spacing="1.4" font-style="italic" >Alameda</text>
<text x="746" y="564" font-size="12.5" fill="#8d9496" text-anchor="middle" letter-spacing="1.4" font-style="italic" >Island</text>
<text x="1299" y="560" font-size="13" fill="#a0a6a8" text-anchor="start" letter-spacing="1.9" font-style="italic" >Upper San</text>
<text x="1307" y="575" font-size="13" fill="#a0a6a8" text-anchor="start" letter-spacing="1.9" font-style="italic" >Leandro</text>
<text x="1302" y="590" font-size="13" fill="#a0a6a8" text-anchor="start" letter-spacing="1.9" font-style="italic" >Reservoir</text>
<text x="957" y="805" font-size="11.5" fill="#8c8c8c" text-anchor="middle" letter-spacing="0.5"  >San Francisco</text>
<text x="957" y="818.5" font-size="11.5" fill="#8c8c8c" text-anchor="middle" letter-spacing="0.5"  >Bay Oakland</text>
<text x="957" y="832" font-size="11.5" fill="#8c8c8c" text-anchor="middle" letter-spacing="0.5"  >International</text>
<text font-size="11.5" fill="#a9aeb0" font-style="italic" letter-spacing="0.45" transform="translate(1190,238) rotate(35)">San Pablo Creek</text>
<text font-size="11" fill="#b0b5b7" font-style="italic" letter-spacing="0.8" transform="translate(960,470) rotate(-74)">Sausal Creek</text>
<text x="1348" y="806" font-size="13" fill="#a0a6a8" text-anchor="start" letter-spacing="1.5" font-style="italic" >La</text>
<text x="1340" y="823" font-size="13" fill="#a0a6a8" text-anchor="start" letter-spacing="1.5" font-style="italic" >Ch</text>
<g stroke="#3d3340" stroke-width="1.4" stroke-opacity="0.85">
<circle cx="815.7" cy="217.1" r="6.3" fill="#f0a019" fill-opacity="0.82"/>
<circle cx="723" cy="241.8" r="9.8" fill="#6c2d8c" fill-opacity="0.85"/>
<circle cx="737" cy="251.8" r="6.7" fill="#6c2d8c" fill-opacity="0.85"/>
<circle cx="771.8" cy="249.1" r="12.1" fill="#8a4fa8" fill-opacity="0.72"/>
<circle cx="774" cy="248" r="5.2" fill="#8e4a6a" fill-opacity="0.8"/>
<circle cx="847.9" cy="292" r="8" fill="#8a4fa8" fill-opacity="0.72"/>
<circle cx="801.9" cy="299.7" r="6.7" fill="#8a4fa8" fill-opacity="0.72"/>
<circle cx="786.8" cy="308.1" r="6.7" fill="#8a4fa8" fill-opacity="0.72"/>
<circle cx="796.2" cy="318.8" r="6.3" fill="#8a4fa8" fill-opacity="0.72"/>
<circle cx="772.2" cy="320.6" r="6.7" fill="#f0a019" fill-opacity="0.82"/>
<circle cx="709" cy="333.8" r="15.9" fill="#8a4fa8" fill-opacity="0.72"/>
<circle cx="749.2" cy="355.8" r="10.9" fill="#8a4fa8" fill-opacity="0.72"/>
<circle cx="745" cy="363.1" r="11.5" fill="#f0a019" fill-opacity="0.82"/>
<circle cx="744.6" cy="339.7" r="17.1" fill="#f0a019" fill-opacity="0.82"/>
<circle cx="749.2" cy="346.4" r="10.5" fill="#f0a019" fill-opacity="0.82"/>
<circle cx="768" cy="330.7" r="7.3" fill="#8a4fa8" fill-opacity="0.72"/>
<circle cx="776.4" cy="333.8" r="10.5" fill="#6c2d8c" fill-opacity="0.85"/>
<circle cx="791" cy="332.8" r="12.5" fill="#6c2d8c" fill-opacity="0.85"/>
<circle cx="800.4" cy="337" r="7.3" fill="#8a4fa8" fill-opacity="0.72"/>
<circle cx="825.5" cy="329.6" r="6.7" fill="#8a4fa8" fill-opacity="0.72"/>
<circle cx="795.6" cy="346.4" r="6.7" fill="#f0a019" fill-opacity="0.82"/>
<circle cx="826.1" cy="355.8" r="13.6" fill="#f0a019" fill-opacity="0.82"/>
<circle cx="813" cy="359.3" r="6.3" fill="#f0a019" fill-opacity="0.82"/>
<circle cx="833.9" cy="365.2" r="6.3" fill="#8a4fa8" fill-opacity="0.72"/>
<circle cx="824.4" cy="371.4" r="7.3" fill="#f0a019" fill-opacity="0.82"/>
<circle cx="830.7" cy="363" r="9.4" fill="#f0a019" fill-opacity="0.82"/>
<circle cx="792" cy="372" r="10" fill="#8a4fa8" fill-opacity="0.72"/>
<circle cx="797.3" cy="374" r="5.9" fill="#6c2d8c" fill-opacity="0.85"/>
<circle cx="837" cy="383" r="7.3" fill="#f0a019" fill-opacity="0.82"/>
<circle cx="819.2" cy="392.4" r="6.7" fill="#8a4fa8" fill-opacity="0.72"/>
<circle cx="861" cy="410.8" r="9.4" fill="#8a4fa8" fill-opacity="0.72"/>
<circle cx="680.2" cy="380.9" r="11.5" fill="#6c2d8c" fill-opacity="0.85"/>
<circle cx="689.6" cy="375.7" r="6.7" fill="#8a4fa8" fill-opacity="0.72"/>
<circle cx="732.4" cy="385.1" r="11.5" fill="#6c2d8c" fill-opacity="0.85"/>
<circle cx="729.3" cy="380.9" r="7.3" fill="#6c2d8c" fill-opacity="0.85"/>
<circle cx="757.1" cy="384.7" r="6.7" fill="#f0a019" fill-opacity="0.82"/>
<circle cx="668.7" cy="397.6" r="13" fill="#8a4fa8" fill-opacity="0.72"/>
<circle cx="723" cy="398.7" r="7.9" fill="#8a4fa8" fill-opacity="0.72"/>
<circle cx="730.8" cy="403.9" r="6.7" fill="#6c2d8c" fill-opacity="0.85"/>
<circle cx="653" cy="412.3" r="11.5" fill="#8a4fa8" fill-opacity="0.72"/>
<circle cx="669.3" cy="408.5" r="5.9" fill="#f0a019" fill-opacity="0.82"/>
<circle cx="694.4" cy="404.3" r="5.9" fill="#f0a019" fill-opacity="0.82"/>
<circle cx="689.6" cy="413.3" r="7.3" fill="#f0a019" fill-opacity="0.82"/>
<circle cx="696.9" cy="414.4" r="6.3" fill="#f0a019" fill-opacity="0.82"/>
<circle cx="680.2" cy="416.5" r="4.6" fill="#f0a019" fill-opacity="0.82"/>
<circle cx="655.1" cy="423.8" r="5.9" fill="#8a4fa8" fill-opacity="0.72"/>
<circle cx="666" cy="425.9" r="5.9" fill="#f0a019" fill-opacity="0.82"/>
<circle cx="667.6" cy="429" r="8.4" fill="#6c2d8c" fill-opacity="0.85"/>
<circle cx="680.2" cy="437.4" r="20.9" fill="#8a4fa8" fill-opacity="0.72"/>
<circle cx="721" cy="435.3" r="23" fill="#f0a019" fill-opacity="0.82"/>
<circle cx="708.4" cy="434.2" r="11.5" fill="#f0a019" fill-opacity="0.82"/>
<circle cx="689.6" cy="434.2" r="15.1" fill="#6c2d8c" fill-opacity="0.85"/>
<circle cx="689.6" cy="427" r="6.3" fill="#8e4a6a" fill-opacity="0.8"/>
<circle cx="735.6" cy="439.5" r="9.8" fill="#8e4a6a" fill-opacity="0.8"/>
<circle cx="748.1" cy="453" r="7.9" fill="#8a4fa8" fill-opacity="0.72"/>
<circle cx="758.6" cy="458.3" r="7.3" fill="#f0a019" fill-opacity="0.82"/>
<circle cx="758" cy="450" r="5.2" fill="#f0a019" fill-opacity="0.82"/>
<circle cx="760.7" cy="398.7" r="9.4" fill="#f0a019" fill-opacity="0.82"/>
<circle cx="755.5" cy="412.3" r="8.4" fill="#f0a019" fill-opacity="0.82"/>
<circle cx="772.2" cy="413.3" r="19.9" fill="#6c2d8c" fill-opacity="0.85"/>
<circle cx="772.2" cy="398.7" r="8.4" fill="#6c2d8c" fill-opacity="0.85"/>
<circle cx="761.7" cy="431.1" r="15.1" fill="#6c2d8c" fill-opacity="0.85"/>
<circle cx="797.3" cy="399.7" r="8.4" fill="#8a4fa8" fill-opacity="0.72"/>
<circle cx="806.7" cy="401.8" r="5.9" fill="#8a4fa8" fill-opacity="0.72"/>
<circle cx="795.2" cy="441.5" r="12.5" fill="#f0a019" fill-opacity="0.82"/>
<circle cx="790" cy="436.3" r="11.5" fill="#8e4a6a" fill-opacity="0.8"/>
<circle cx="780.5" cy="452" r="11.5" fill="#f0a019" fill-opacity="0.82"/>
<circle cx="799.4" cy="449.9" r="9.4" fill="#8e4a6a" fill-opacity="0.8"/>
<circle cx="791" cy="458.3" r="10.5" fill="#8a4fa8" fill-opacity="0.72"/>
<circle cx="788.9" cy="480.2" r="10.5" fill="#8a4fa8" fill-opacity="0.72"/>
<circle cx="793.1" cy="470.8" r="14.6" fill="#f0a019" fill-opacity="0.82"/>
<circle cx="822.4" cy="469.8" r="13.6" fill="#6c2d8c" fill-opacity="0.85"/>
<circle cx="822.4" cy="462.4" r="7.3" fill="#f0a019" fill-opacity="0.82"/>
<circle cx="839.1" cy="478.1" r="5.2" fill="#f0a019" fill-opacity="0.82"/>
<circle cx="862.1" cy="477.1" r="6.3" fill="#f0a019" fill-opacity="0.82"/>
<circle cx="854.3" cy="454.5" r="6.3" fill="#f0a019" fill-opacity="0.82"/>
<circle cx="750.8" cy="474.4" r="6.7" fill="#8a4fa8" fill-opacity="0.72"/>
<circle cx="766.9" cy="482.3" r="7.9" fill="#8a4fa8" fill-opacity="0.72"/>
<circle cx="765" cy="480" r="5" fill="#8a4fa8" fill-opacity="0.72"/>
<circle cx="837" cy="492.8" r="9.4" fill="#8a4fa8" fill-opacity="0.72"/>
<circle cx="809.4" cy="509.5" r="6.3" fill="#f0a019" fill-opacity="0.82"/>
<circle cx="828.6" cy="515.8" r="18.4" fill="#6c2d8c" fill-opacity="0.85"/>
<circle cx="826" cy="514" r="13" fill="#6c2d8c" fill-opacity="0.85"/>
<circle cx="859.4" cy="502.2" r="6.3" fill="#f0a019" fill-opacity="0.82"/>
<circle cx="939.4" cy="430.5" r="6.7" fill="#8a4fa8" fill-opacity="0.72"/>
<circle cx="956.2" cy="456" r="13" fill="#864360" fill-opacity="0.95"/>
<circle cx="983.4" cy="459.3" r="12.1" fill="#8a4fa8" fill-opacity="0.72"/>
<circle cx="1011" cy="458.3" r="7.3" fill="#6c2d8c" fill-opacity="0.85"/>
<circle cx="1012.2" cy="483.8" r="12.1" fill="#f0a019" fill-opacity="0.82"/>
<circle cx="880.9" cy="458.7" r="7.3" fill="#f0a019" fill-opacity="0.82"/>
<circle cx="889.3" cy="459.7" r="6.7" fill="#f0a019" fill-opacity="0.82"/>
<circle cx="879.9" cy="470.2" r="7.3" fill="#f0a019" fill-opacity="0.82"/>
<circle cx="906.6" cy="481" r="6.7" fill="#f0a019" fill-opacity="0.82"/>
<circle cx="890.7" cy="488.4" r="6.7" fill="#8a4fa8" fill-opacity="0.72"/>
<circle cx="877.8" cy="524.5" r="5.9" fill="#8a4fa8" fill-opacity="0.72"/>
<circle cx="887.2" cy="526.6" r="4.6" fill="#8a4fa8" fill-opacity="0.72"/>
<circle cx="897.2" cy="534" r="10.5" fill="#8a4fa8" fill-opacity="0.72"/>
<circle cx="898.7" cy="540.2" r="8.8" fill="#8e4a6a" fill-opacity="0.8"/>
<circle cx="932.1" cy="532.9" r="10" fill="#8a4fa8" fill-opacity="0.72"/>
<circle cx="949.5" cy="527" r="13.6" fill="#8a4fa8" fill-opacity="0.72"/>
<circle cx="988" cy="521.8" r="14.6" fill="#8a4fa8" fill-opacity="0.72"/>
<circle cx="1050.3" cy="521" r="22" fill="#8a4fa8" fill-opacity="0.72"/>
<circle cx="1076" cy="529.8" r="6.7" fill="#8a4fa8" fill-opacity="0.72"/>
<circle cx="960.4" cy="539.2" r="6.3" fill="#f0a019" fill-opacity="0.82"/>
<circle cx="970.8" cy="538.1" r="7.3" fill="#f0a019" fill-opacity="0.82"/>
<circle cx="953" cy="549.6" r="6.3" fill="#f0a019" fill-opacity="0.82"/>
<circle cx="964.5" cy="549.6" r="6.3" fill="#f0a019" fill-opacity="0.82"/>
<circle cx="913.3" cy="553.8" r="9.4" fill="#8e4a6a" fill-opacity="0.8"/>
<circle cx="931.1" cy="551.7" r="9.4" fill="#8a4fa8" fill-opacity="0.72"/>
<circle cx="933.2" cy="559" r="10.9" fill="#8a4fa8" fill-opacity="0.72"/>
<circle cx="947.8" cy="575.8" r="19.9" fill="#8a4fa8" fill-opacity="0.72"/>
<circle cx="953" cy="575.8" r="10.5" fill="#6c2d8c" fill-opacity="0.85"/>
<circle cx="944" cy="573" r="8.4" fill="#6c2d8c" fill-opacity="0.85"/>
<circle cx="994.2" cy="584.7" r="12.1" fill="#f0a019" fill-opacity="0.82"/>
<circle cx="1048.4" cy="588.4" r="9.6" fill="#8a4fa8" fill-opacity="0.72"/>
<circle cx="1028.2" cy="593.6" r="6.3" fill="#f0a019" fill-opacity="0.82"/>
<circle cx="1026.8" cy="603.5" r="10.9" fill="#f0a019" fill-opacity="0.82"/>
<circle cx="1044.3" cy="607.2" r="8.4" fill="#f0a019" fill-opacity="0.82"/>
<circle cx="1061" cy="602.4" r="6.3" fill="#f0a019" fill-opacity="0.82"/>
<circle cx="1056" cy="605.5" r="5.2" fill="#f0a019" fill-opacity="0.82"/>
<circle cx="1038" cy="617" r="6.7" fill="#8a4fa8" fill-opacity="0.72"/>
<circle cx="1038" cy="621.2" r="6.7" fill="#8a4fa8" fill-opacity="0.72"/>
<circle cx="1056.9" cy="633.4" r="7.3" fill="#8a4fa8" fill-opacity="0.72"/>
<circle cx="1085.3" cy="594.7" r="8.8" fill="#8a4fa8" fill-opacity="0.72"/>
<circle cx="1092" cy="596.1" r="9.4" fill="#f0a019" fill-opacity="0.82"/>
<circle cx="1108.7" cy="583" r="6.3" fill="#f0a019" fill-opacity="0.82"/>
<circle cx="1128" cy="603.5" r="15.7" fill="#8a4fa8" fill-opacity="0.72"/>
<circle cx="1115.4" cy="597.2" r="6.3" fill="#6c2d8c" fill-opacity="0.85"/>
<circle cx="1134.4" cy="613.5" r="6.3" fill="#8e4a6a" fill-opacity="0.8"/>
<circle cx="1089.5" cy="622.3" r="12.1" fill="#f0a019" fill-opacity="0.82"/>
<circle cx="1140.5" cy="624.8" r="10.5" fill="#f0a019" fill-opacity="0.82"/>
<circle cx="1153.7" cy="624.8" r="6.3" fill="#f0a019" fill-opacity="0.82"/>
<circle cx="1145.7" cy="629.6" r="7.3" fill="#8e4a6a" fill-opacity="0.8"/>
<circle cx="1152.6" cy="640" r="10.5" fill="#f0a019" fill-opacity="0.82"/>
<circle cx="1177.7" cy="639" r="16.1" fill="#f0a019" fill-opacity="0.82"/>
<circle cx="1166.2" cy="636.9" r="8.8" fill="#8a4fa8" fill-opacity="0.72"/>
<circle cx="1165" cy="635" r="6.3" fill="#dd8a10" fill-opacity="0.9"/>
<circle cx="1039.7" cy="653.6" r="15.7" fill="#6c2d8c" fill-opacity="0.85"/>
<circle cx="1045" cy="662" r="14.6" fill="#6c2d8c" fill-opacity="0.85"/>
<circle cx="1037.6" cy="649.4" r="9.4" fill="#6c2d8c" fill-opacity="0.85"/>
<circle cx="1042" cy="657" r="12" fill="#6c2d8c" fill-opacity="0.85"/>
<circle cx="1071.5" cy="653.6" r="10.9" fill="#f0a019" fill-opacity="0.82"/>
<circle cx="1087.4" cy="654.7" r="6.3" fill="#8a4fa8" fill-opacity="0.72"/>
<circle cx="1102.9" cy="665.1" r="11.5" fill="#8a4fa8" fill-opacity="0.72"/>
<circle cx="1100.4" cy="665.5" r="8.8" fill="#dd8a10" fill-opacity="0.9"/>
<circle cx="1131.7" cy="675" r="6.3" fill="#f0a019" fill-opacity="0.82"/>
<circle cx="1155.8" cy="677.3" r="6.3" fill="#f0a019" fill-opacity="0.82"/>
<circle cx="1177.1" cy="677.3" r="6.3" fill="#f0a019" fill-opacity="0.82"/>
<circle cx="1084.5" cy="690.2" r="10" fill="#8a4fa8" fill-opacity="0.72"/>
<circle cx="1183.1" cy="692.3" r="7.3" fill="#8a4fa8" fill-opacity="0.72"/>
<circle cx="1147.4" cy="702.8" r="11.5" fill="#f0a019" fill-opacity="0.82"/>
<circle cx="1159.3" cy="696.5" r="12.1" fill="#f0a019" fill-opacity="0.82"/>
<circle cx="1132.8" cy="705.5" r="9.4" fill="#6c2d8c" fill-opacity="0.85"/>
<circle cx="1128.6" cy="706" r="7.3" fill="#8a4fa8" fill-opacity="0.72"/>
<circle cx="1188.2" cy="710.1" r="12.1" fill="#f0a019" fill-opacity="0.82"/>
<circle cx="1202.2" cy="717.4" r="6.3" fill="#f0a019" fill-opacity="0.82"/>
<circle cx="1128.6" cy="721.6" r="11.5" fill="#f0a019" fill-opacity="0.82"/>
<circle cx="1143.2" cy="730" r="8.8" fill="#6c2d8c" fill-opacity="0.85"/>
<circle cx="1155.8" cy="741.4" r="17.1" fill="#8a4fa8" fill-opacity="0.72"/>
<circle cx="1200.7" cy="736.2" r="12.1" fill="#f0a019" fill-opacity="0.82"/>
<circle cx="1198.6" cy="730" r="5.9" fill="#dd8a10" fill-opacity="0.9"/>
<circle cx="1055.4" cy="727.9" r="14" fill="#8a4fa8" fill-opacity="0.72"/>
<circle cx="1079.4" cy="746.7" r="7.9" fill="#8a4fa8" fill-opacity="0.72"/>
<circle cx="1129.2" cy="771.4" r="12" fill="#f0a019" fill-opacity="0.82"/>
</g>
<text x="828" y="292" font-size="12.9" fill="#6b6b6b" text-anchor="middle" stroke="#ffffff" stroke-width="2.6" stroke-opacity="0.9" paint-order="stroke" stroke-linejoin="round">COUNCIL DISTRICT 1</text>
<text x="998" y="330" font-size="12.9" fill="#6b6b6b" text-anchor="middle" stroke="#ffffff" stroke-width="2.6" stroke-opacity="0.9" paint-order="stroke" stroke-linejoin="round">COUNCIL DISTRICT 4</text>
<text x="647" y="395" font-size="12.9" fill="#6b6b6b" text-anchor="middle" stroke="#ffffff" stroke-width="2.6" stroke-opacity="0.9" paint-order="stroke" stroke-linejoin="round">COUNCIL DISTRICT 3</text>
<text x="862" y="471" font-size="12.9" fill="#6b6b6b" text-anchor="middle" stroke="#ffffff" stroke-width="2.6" stroke-opacity="0.9" paint-order="stroke" stroke-linejoin="round">COUNCIL DISTRICT 2</text>
<text x="958" y="551" font-size="12.9" fill="#6b6b6b" text-anchor="middle" stroke="#ffffff" stroke-width="2.6" stroke-opacity="0.9" paint-order="stroke" stroke-linejoin="round">COUNCIL DISTRICT 5</text>
<text x="1126" y="585" font-size="12.9" fill="#6b6b6b" text-anchor="middle" stroke="#ffffff" stroke-width="2.6" stroke-opacity="0.9" paint-order="stroke" stroke-linejoin="round">COUNCIL DISTRICT 6</text>
<rect x="406" y="836" width="131" height="21" fill="#ffffff" fill-opacity="0.45"/>
<path d="M406.3 857 L406.3 836 L537 836 L537 857" fill="none" stroke="#2f2f2f" stroke-width="2.2"/>
<text x="414.3" y="852.8" font-size="14.2" font-weight="700" fill="#2b2b2b">2 mi</text>
<rect x="784" y="838" width="570" height="19" fill="#ffffff" fill-opacity="0.62"/>
<text x="791" y="852.6" font-size="14.6" fill="#6a6a6a" textLength="432" lengthAdjust="spacingAndGlyphs">California State Parks, Esri, TomTom, Garmin, SafeGraph, GeoT...</text>
<text x="1239" y="852.6" font-size="14.6" fill="#4a4a4a" textLength="108" lengthAdjust="spacingAndGlyphs">Powered by Esri</text>
<rect x="1294.5" y="692.5" width="41" height="81" fill="#000" opacity="0.06"/><rect x="1294.5" y="784.5" width="41" height="41" fill="#000" opacity="0.06"/>
<rect x="1295" y="692" width="40" height="80" fill="#fff"/>
<rect x="1295" y="784" width="40" height="40" fill="#fff"/>
<path d="M1309.5 712.5 H1321.5 M1315.5 706.5 V718.5 M1309.5 752.5 H1321.5" stroke="#4a4a4a" stroke-width="1.2" fill="none"/>
<path d="M1307 804 L1315 796 L1323 804 M1309 802.5 V811.5 H1321 V802.5 M1311 799.7 V797 H1312.5" stroke="#4a4a4a" stroke-width="1.2" fill="none" stroke-linejoin="round"/>
</svg>
<div class="abs" style="left:402px;top:436.5px;width:20.5px;height:74.5px;background:#003d22;border-radius:0 19px 19px 0/0 21px 21px 0"></div>
<svg class="abs" style="left:402px;top:460px" width="20" height="28" viewBox="402 460 20 28"><path d="M417 464.7 L406.6 474 L417 483.3" stroke="#ece24a" stroke-width="1.5" fill="none"/></svg>
<div class="abs" style="left:1337px;top:436.5px;width:19.5px;height:74.5px;background:#003d22;border-radius:19px 0 0 19px/21px 0 0 21px"></div>
<svg class="abs" style="left:1337px;top:460px" width="20" height="28" viewBox="1337 460 20 28"><path d="M1341.3 464.7 L1351.7 474 L1341.3 483.3" stroke="#ece24a" stroke-width="1.5" fill="none"/></svg>
<!-- right panel -->
<div class="abs" style="left:1356px;top:100px;width:548px;height:39px;border-radius:20px;background:#fff;border:1px solid #cfd8d3"></div>
<svg class="abs" style="left:1364px;top:108px" width="26" height="26" viewBox="0 0 26 26" fill="none" stroke="#9a9a9a" stroke-width="1.3"><circle cx="11" cy="10.8" r="7.6"/><path d="M16.5 16.3 L22.5 22.3"/></svg>
<div id="sp" class="abs" style="left:1392px;top:109px;font-size:17.8px;line-height:21px;color:#a9a9a9;white-space:nowrap">Search Project, Address, Developer or Property Mangager</div>

<div class="abs li" style="top:156px;height:136px">
<svg class="abs" style="left:0;top:0" width="125" height="136" viewBox="0 0 745 810" preserveAspectRatio="none">
<defs><linearGradient id="sky1" x1="0" y1="0" x2="1" y2="0.4"><stop offset="0" stop-color="#cfe0f6"/><stop offset="0.22" stop-color="#8fbaf0"/><stop offset="1" stop-color="#7fb0ee"/></linearGradient></defs>
<rect width="745" height="810" fill="url(#sky1)"/>
<polygon points="0,20 60,40 110,110 0,130" fill="#dfeaf8" opacity="0.8"/>
<!-- second building right -->
<polygon points="560,285 745,278 745,330 590,335" fill="#eadcae"/>
<polygon points="565,280 745,272 745,292 570,300" fill="#4f8259"/>
<rect x="620" y="340" width="125" height="300" fill="#a8603a"/>
<polygon points="640,380 745,340 745,420 650,440" fill="#c87848"/>
<rect x="495" y="430" width="250" height="220" fill="#3a2e24"/>
<rect x="690" y="500" width="55" height="130" fill="#b8683c"/>
<polygon points="560,455 745,430 745,470 600,485" fill="#e6d6a8"/>
<ellipse cx="605" cy="580" rx="95" ry="65" fill="#2f5a2a"/><ellipse cx="640" cy="560" rx="50" ry="35" fill="#4a7a34"/>
<!-- eave -->
<polygon points="0,150 680,182 605,300 500,300 490,212 0,205" fill="#f2e1ac"/>
<polygon points="0,128 685,158 680,186 0,154" fill="#4d8158"/>
<!-- main wall -->
<rect x="0" y="205" width="495" height="535" fill="#e7b74a"/>
<rect x="275" y="215" width="220" height="525" fill="#e9ba4e"/>
<rect x="270" y="215" width="4" height="520" fill="#c99a3a"/>
<!-- windows -->
<rect x="345" y="235" width="145" height="100" fill="#e6e2d6"/><rect x="412" y="235" width="5" height="100" fill="#bdb8a8"/>
<rect x="345" y="458" width="145" height="98" fill="#cdc6d6"/><g stroke="#8f88a8" stroke-width="5"><path d="M360 460V555M380 460V555M400 460V555M420 460V555M440 460V555M460 460V555M478 460V555"/></g>
<!-- balcony -->
<polygon points="285,385 655,392 640,412 285,405" fill="#9a5a3a"/>
<polygon points="285,405 640,412 600,445 490,452 285,422" fill="#efe0b0"/>
<rect x="300" y="345" width="200" height="42" fill="#d9b552"/>
<g stroke="#2a2522" stroke-width="5" fill="none"><path d="M295 308 L600 330 L610 395"/><path d="M297 308V390M330 312V390M365 314V390M400 316V390M435 318V390M470 320V390M505 322V390M540 325V390M575 328V392"/></g>
<path d="M565 300 L620 330 L640 400" stroke="#5a3a2a" stroke-width="8" fill="none"/>
<rect x="612" y="300" width="9" height="100" fill="#2e2a26"/><rect x="704" y="330" width="9" height="100" fill="#2e2a26"/>
<!-- green band -->
<polygon points="0,505 305,512 305,535 0,528" fill="#5b8a5e"/>
<!-- sign text -->
<g stroke="#4a3520" stroke-width="7" fill="none" stroke-linecap="round"><path d="M10 338 Q50 325 90 340"/><path d="M5 368 Q40 360 70 366"/><path d="M85 366 Q120 358 155 368"/></g>
<rect x="100" y="578" width="50" height="34" fill="#e9e6e0"/><rect x="104" y="590" width="42" height="6" fill="#6a7a9a"/>
<rect x="365" y="645" width="60" height="72" fill="none" stroke="#c99a3a" stroke-width="4"/>
<g fill="#8a6a2a"><rect x="2" y="638" width="14" height="8"/><rect x="118" y="640" width="22" height="8"/><rect x="240" y="640" width="22" height="8"/></g>
<!-- fence / curb -->
<rect x="490" y="632" width="222" height="108" fill="#3f8060"/>
<rect x="632" y="430" width="10" height="310" fill="#2a2a26"/>
<rect x="712" y="620" width="33" height="120" fill="#7a4a34"/>
<rect x="0" y="735" width="70" height="50" fill="#4a4a48"/>
<polygon points="62,722 745,735 745,800 58,778" fill="#3d8558"/>
<polygon points="62,722 500,730 500,742 62,735" fill="#2f6a44"/>
<polygon points="0,782 745,802 745,810 0,810" fill="#dbd8d0"/>
</svg>
<div id="t1" class="t" style="top:5px">10320 Mac Arthur Blvd Project</div>
<div id="l1" class="l" style="top:61.5px">10320 MacArthur Blvd</div>
<div id="l2" class="l" style="top:84.5px">17 units (100% Affordable)</div>
<div id="l3" class="l" style="top:107.5px">Richmond Neighborhood Housing Services</div>
</div>
<div class="abs li" style="top:296px;height:136px">
<svg class="abs" style="left:0;top:0" width="125" height="136" viewBox="0 0 638 695" preserveAspectRatio="none">
<rect width="638" height="695" fill="#a8a598"/>
<!-- upper porch interior -->
<polygon points="0,0 638,0 638,140 0,380" fill="#6d716e"/>
<polygon points="130,0 420,0 420,40 250,150 60,250 60,180" fill="#6a6c69"/><polygon points="130,0 420,0 420,30 270,70 160,105" fill="#d6d4cc"/>
<polygon points="150,40 400,0 400,70 130,240" fill="#62645f"/>
<polygon points="0,0 150,0 100,90 40,170 0,230" fill="#dfe8df"/><polygon points="100,60 150,20 150,40 100,90" fill="#8a9088"/>
<g fill="#3f5a3c"><ellipse cx="25" cy="30" rx="45" ry="40"/><ellipse cx="15" cy="110" rx="25" ry="35"/><ellipse cx="70" cy="15" rx="30" ry="18"/></g>
<g fill="#e4e2da"><polygon points="235,0 255,0 250,150 232,160"/><polygon points="122,95 138,88 132,225 118,232"/><polygon points="52,170 64,164 60,270 48,276"/></g>
<rect x="440" y="0" width="198" height="30" fill="#5f6660"/>
<!-- railing -->
<polygon points="0,300 245,165 400,75 480,22 638,0 638,115 470,175 250,275 0,372" fill="#5c675e"/>
<g fill="#d6d7d0">
<polygon points="490,12 638,0 638,22 490,40"/><polygon points="490,52 638,30 638,56 490,82"/><polygon points="490,96 638,66 638,92 490,122"/>
<polygon points="420,55 470,30 470,58 420,84"/><polygon points="420,98 470,72 470,100 420,126"/><polygon points="420,140 470,114 470,142 420,168"/>
<polygon points="258,168 395,92 395,118 258,196"/><polygon points="258,208 395,130 395,158 258,236"/><polygon points="258,248 395,170 395,196 258,272"/>
<polygon points="130,232 212,190 212,212 130,256"/><polygon points="130,268 212,224 212,246 130,290"/><polygon points="130,302 212,258 212,280 130,324"/>
<polygon points="50,278 112,246 112,266 50,300"/><polygon points="50,312 112,278 112,298 50,332"/><polygon points="0,310 40,290 40,308 0,330"/><polygon points="0,342 40,320 40,338 0,360"/>
</g>
<polygon points="0,372 250,275 470,175 638,115 638,140 470,200 250,300 0,396" fill="#4f5a54"/>
<!-- soffit -->
<polygon points="0,396 250,300 470,200 638,140 638,300 560,335 400,285 0,425" fill="#eeebe2"/>
<polygon points="0,425 400,285 560,335 560,350 400,305 0,440" fill="#cfccc0"/>
<ellipse cx="262" cy="345" rx="26" ry="9" fill="#f8f6f0"/>
<!-- downspout -->
<polygon points="398,0 412,0 412,255 590,345 590,695 575,695 575,355 398,265" fill="#c8cbc9"/>
<polygon points="404,0 408,0 408,258 404,258" fill="#9fa3a1"/>
<!-- windows and door -->
<rect x="378" y="362" width="190" height="205" fill="#f1f0ea"/><rect x="388" y="378" width="72" height="170" fill="#5b5e64"/><rect x="468" y="372" width="90" height="180" fill="#dcdcda"/><g stroke="#c2c2c0" stroke-width="4"><path d="M485 375V550M505 375V550M525 375V550M543 375V550"/></g>
<rect x="608" y="342" width="30" height="235" fill="#f1f0ea"/><rect x="620" y="355" width="18" height="205" fill="#4e5156"/>
<rect x="275" y="392" width="66" height="262" fill="#5e5c54"/><rect x="284" y="402" width="50" height="240" fill="#f1f1ef"/>
<rect x="100" y="415" width="64" height="115" fill="#ecebe5"/><rect x="108" y="424" width="48" height="96" fill="#4a4d4c"/>
<rect x="166" y="405" width="86" height="135" fill="#ecebe5"/><rect x="174" y="416" width="32" height="112" fill="#3d4042"/><rect x="210" y="416" width="34" height="112" fill="#8a8d8c"/>
<rect x="58" y="438" width="28" height="145" fill="#4c4a44"/><rect x="20" y="445" width="22" height="70" fill="#d8d6ce"/>
<!-- ground -->
<polygon points="0,600 90,585 290,650 420,695 0,695" fill="#3e433f"/>
<rect x="0" y="520" width="40" height="120" fill="#2b2f2c"/>
<polygon points="40,600 270,660 270,672 40,615" fill="#8e8c82"/>
<g fill="#e9eee4"><ellipse cx="150" cy="672" rx="55" ry="24"/><ellipse cx="120" cy="660" rx="25" ry="14"/></g>
<g fill="#5c7a4a"><ellipse cx="330" cy="688" rx="70" ry="10"/></g>
</svg>
<div id="t2" class="t" style="top:5px">10th Ave Eastlake</div>
<div id="l4" class="l" style="top:38.5px">2515 10th Avenue</div>
<div id="l5" class="l" style="top:61.5px">34 units (100% Affordable)</div>
<div id="l6" class="l" style="top:84.5px">East Bay Asian Local Development Corp.</div>
<div id="l7" class="l" style="top:107.5px">(EBALDC)</div>
</div>
<div class="abs li" style="top:436px;height:18px">
<svg class="abs" style="left:0;top:0" width="125" height="18" viewBox="0 0 125 18" preserveAspectRatio="none">
<rect width="125" height="18" fill="#eef3f3"/>
<rect width="62" height="18" fill="#6f8f35"/>
<g fill="#8fab3e"><ellipse cx="12" cy="6" rx="10" ry="6"/><ellipse cx="36" cy="9" rx="12" ry="7"/><ellipse cx="55" cy="5" rx="9" ry="5"/></g>
<g fill="#4e6e2a"><ellipse cx="22" cy="14" rx="9" ry="4"/><ellipse cx="48" cy="15" rx="8" ry="3"/><ellipse cx="4" cy="15" rx="5" ry="4"/></g>
<ellipse cx="66" cy="14" rx="6" ry="4" fill="#8a9a7a"/>
</svg>
<div id="t3" class="t" style="top:5px">1432 12th Avenue</div>
</div>
<!-- list scrollbar -->
<svg class="abs" style="left:1886px;top:156px" width="14" height="298" viewBox="0 0 14 298"><path d="M3 8.5 L6.5 3 L10 8.5 Z" fill="#a3a3a3"/><rect x="3" y="13.5" width="7" height="146" rx="3.5" fill="#a3a3a3"/><path d="M3 287 L10 287 L6.5 293 Z" fill="#a3a3a3"/></svg>
<div class="abs" style="left:1659px;top:432px;width:232px;height:22px;background:#fff"></div>
<div id="lu" class="abs" style="left:1668px;top:434px;font-size:14.5px;line-height:17px;color:#2b2b2b;white-space:nowrap">Last update: a few seconds ago</div>

<!-- details -->
<div class="abs" style="left:1369px;top:466px;width:531px;height:389px;background:#fff;overflow:hidden">
<div class="abs" style="left:20px;top:22.7px;font-size:29.4px;font-weight:700;line-height:34px;color:#4a4a4a;white-space:nowrap">10320 Mac Arthur Blvd Project</div>
<div class="abs" style="left:4px;top:86px;width:509px;height:1px;background:#dcdcdc"></div>
<div id="d1" class="d" style="top:110.5px"><b>Address:</b> 10320 MacArthur Blvd</div>
<div id="d2" class="d" style="top:133.3px"><b>City Investment Type:</b> Acquisition</div>
<div id="d3" class="d" style="top:156.1px"><b>Project Type:</b> Multifamily Conversion</div>
<div id="d4" class="d" style="top:178.9px"><b>Developer:</b> Richmond Neighborhood Housing</div>
<div id="d5" class="d" style="top:201.7px">Services</div>
<div id="d6" class="d" style="top:224.5px"><b>Property Manager:</b> Richmond Neighborhood</div>
<div id="d7" class="d" style="top:247.3px">Housing Services</div>
<div id="d8" class="d" style="top:270.1px"><b>COUNCIL DISTRICT 7</b></div>
<div id="d9" class="d" style="top:292.9px"><b>Year Complete:</b> 2024</div>
<div id="d10" class="d" style="top:337px"><b>Property Description</b></div>
<div id="d11" class="d" style="top:360px">Acquisition and deferred maintenance rehabilitation</div>
<div id="d12" class="d" style="top:383px">of a multifamily building with 14 units for low-income</div>
<svg class="abs" style="left:517px;top:0" width="14" height="389" viewBox="0 0 14 389"><path d="M3.5 10.5 L7 5 L10.5 10.5 Z" fill="#a3a3a3"/><rect x="3.7" y="15.5" width="6.6" height="116" rx="3.3" fill="#a3a3a3"/><path d="M3.5 376 L10.5 376 L7 382 Z" fill="#a3a3a3"/></svg>
</div>
</body></html>
